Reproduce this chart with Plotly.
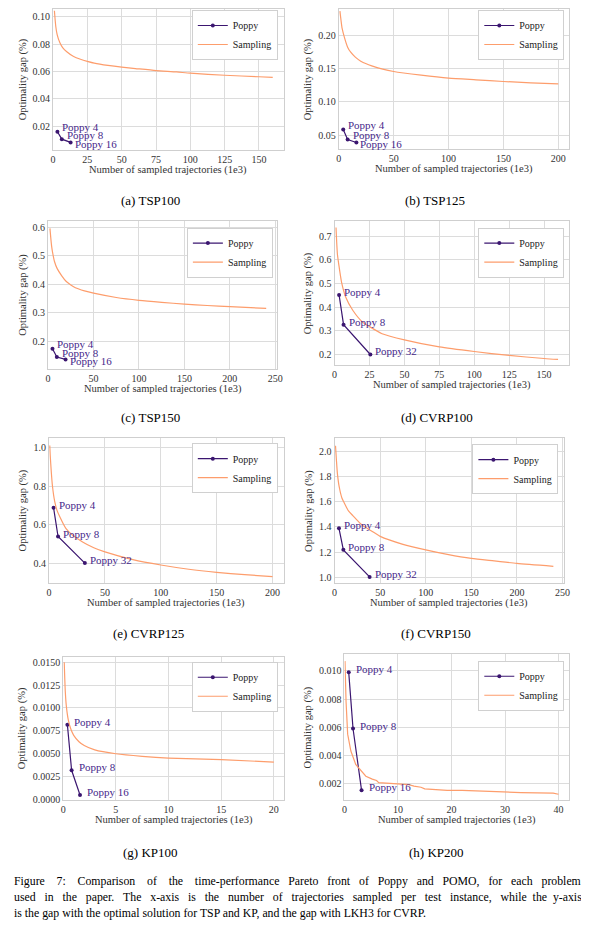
import plotly.graph_objects as go

# The page body has an 8px default margin; the figure is sized to fill the rest of the window.
PAGE_W, PAGE_H = 589, 934
OFF = 8
FW, FH = PAGE_W - OFF, PAGE_H - OFF

panel_titles = ["(a) TSP100", "(b) TSP125", "(c) TSP150", "(d) CVRP100",
                "(e) CVRP125", "(f) CVRP150", "(g) KP100", "(h) KP200"]

# ---------------- data ----------------
tsp100_samp_x = [1, 2, 3, 5, 7, 10, 15, 20, 25, 30, 40, 50, 60, 75, 90, 100, 125, 150, 160]
tsp100_samp_y = [0.1045, 0.093, 0.087, 0.081, 0.0775, 0.0745, 0.0710, 0.0690, 0.0675, 0.0662,
                 0.0645, 0.0632, 0.0622, 0.0607, 0.0597, 0.0588, 0.0573, 0.0562, 0.0558]
tsp100_poppy_x = [3.2, 6.4, 12.8]
tsp100_poppy_y = [0.0159, 0.0105, 0.0081]

tsp125_samp_x = [1, 2, 3, 5, 8, 11, 15, 20, 25, 30, 40, 50, 75, 100, 125, 150, 175, 200]
tsp125_samp_y = [0.236, 0.222, 0.21, 0.197, 0.182, 0.174, 0.167, 0.161, 0.157, 0.154, 0.149,
                 0.1455, 0.140, 0.1355, 0.133, 0.1305, 0.1285, 0.127]
tsp125_poppy_x = [4, 8, 16]
tsp125_poppy_y = [0.0584, 0.0435, 0.039]

tsp150_samp_x = [2, 3, 4, 5, 7, 10, 15, 20, 25, 30, 40, 50, 75, 100, 125, 150, 175, 200, 240]
tsp150_samp_y = [0.596, 0.56, 0.53, 0.51, 0.48, 0.455, 0.43, 0.41, 0.398, 0.388, 0.377, 0.369,
                 0.354, 0.344, 0.337, 0.331, 0.326, 0.322, 0.316]
tsp150_poppy_x = [4.8, 9.6, 19.2]
tsp150_poppy_y = [0.1745, 0.1455, 0.1374]

cvrp100_samp_x = [1, 2, 3, 5, 8, 13, 20, 25, 34, 50, 75, 100, 125, 150, 160]
cvrp100_samp_y = [0.737, 0.625, 0.58, 0.505, 0.442, 0.387, 0.337, 0.318, 0.288, 0.262, 0.232,
                  0.2126, 0.196, 0.183, 0.179]
cvrp100_poppy_x = [3.2, 6.4, 25.6]
cvrp100_poppy_y = [0.452, 0.326, 0.200]

cvrp125_samp_x = [0.6, 1, 2, 3, 5, 7, 10, 15, 20, 30, 40, 50, 75, 100, 125, 150, 175, 200]
cvrp125_samp_y = [1.01, 0.96, 0.87, 0.80, 0.72, 0.675, 0.635, 0.58, 0.55, 0.51, 0.48, 0.458,
                  0.418, 0.39, 0.368, 0.352, 0.34, 0.33]
cvrp125_poppy_x = [4, 8, 32]
cvrp125_poppy_y = [0.687, 0.538, 0.400]

cvrp150_samp_x = [1, 2, 3, 5, 8, 10, 15, 20, 30, 40, 50, 75, 100, 125, 150, 175, 200, 240]
cvrp150_samp_y = [2.045, 1.93, 1.83, 1.72, 1.63, 1.60, 1.53, 1.49, 1.415, 1.37, 1.325, 1.262,
                  1.218, 1.18, 1.15, 1.13, 1.11, 1.087]
cvrp150_poppy_x = [4.8, 9.6, 38.4]
cvrp150_poppy_y = [1.389, 1.218, 1.003]

kp100_samp_x = [0.1, 0.2, 0.3, 0.5, 0.75, 1, 1.5, 2, 3, 5, 7.5, 10, 15, 20]
kp100_samp_y = [0.0150, 0.0118, 0.0102, 0.0086, 0.0076, 0.0070, 0.0063, 0.00588, 0.0054,
                0.00498, 0.0047, 0.00451, 0.00433, 0.00407]
kp100_poppy_x = [0.4, 0.8, 1.6]
kp100_poppy_y = [0.00815, 0.00317, 0.00047]

kp200_samp_x = [0.1, 0.3, 0.6, 1.2, 2.1, 3.35, 4, 5.2, 6, 6.4, 8, 9.5, 11, 12, 13, 14.3, 15,
                17, 19.2, 22, 25, 28, 30, 33, 36, 39, 40]
kp200_samp_y = [0.0107, 0.0078, 0.0055, 0.0043, 0.00335, 0.00275, 0.0025, 0.0023, 0.0022,
                0.00205, 0.0020, 0.00195, 0.00195, 0.0019, 0.0018, 0.00172, 0.0016, 0.00155,
                0.0015, 0.0015, 0.00146, 0.00142, 0.00134, 0.00134, 0.00132, 0.0013, 0.00122]
kp200_poppy_x = [0.8, 1.6, 3.2]
kp200_poppy_y = [0.0099, 0.0059, 0.0015]

labels_tsp_kp = ["Poppy 4", "Poppy 8", "Poppy 16"]
labels_cvrp = ["Poppy 4", "Poppy 8", "Poppy 32"]

x_ticks = [[0, 25, 50, 75, 100, 125, 150], [0, 50, 100, 150, 200], [0, 50, 100, 150, 200, 250],
           [0, 25, 50, 75, 100, 125, 150], [0, 50, 100, 150, 200], [0, 50, 100, 150, 200, 250],
           [0, 5, 10, 15, 20], [0, 10, 20, 30, 40]]
y_ticks = [[0.02, 0.04, 0.06, 0.08, 0.10], [0.05, 0.10, 0.15, 0.20], [0.2, 0.3, 0.4, 0.5, 0.6],
           [0.2, 0.3, 0.4, 0.5, 0.6, 0.7], [0.4, 0.6, 0.8, 1.0], [1.0, 1.2, 1.4, 1.6, 1.8, 2.0],
           [0.0, 0.0025, 0.0050, 0.0075, 0.0100, 0.0125, 0.0150],
           [0.002, 0.004, 0.006, 0.008, 0.010]]
y_formats = [".2f", ".2f", ".1f", ".1f", ".1f", ".1f", ".4f", ".3f"]

caption_lines = [
    "Figure 7: Comparison of the time-performance Pareto front of Poppy and POMO, for each problem",
    "used in the paper. The x-axis is the number of trajectories sampled per test instance, while the y-axis",
    "is the gap with the optimal solution for TSP and KP, and the gap with LKH3 for CVRP.",
]

# ---------------- layout (page pixel geometry) ----------------
frames = [  # left, right, top, bottom in page px
    (50.7, 285, 8, 150), (341, 575, 8, 149),
    (45.7, 278.3, 221, 370.7), (336.7, 575, 221, 366.7),
    (46.7, 285, 440, 585.7), (336.7, 570, 440, 585.7),
    (61, 285.7, 660, 804.3), (346.7, 575, 657.3, 804.3)]
x_ranges = [[0, 168], [0, 210], [0, 252], [0, 168], [0, 210], [0, 252], [0, 21], [0, 42]]
y_ranges = [[0.0025, 0.1058], [0.0291, 0.2392], [0.1026, 0.623], [0.154, 0.766],
            [0.297, 1.048], [0.955, 2.105], [-0.0001, 0.0156], [0.0008, 0.0112]]
legend_pos = [(279, 9), (570, 9), (274, 228), (570, 228), (279, 445), (564, 446), (279, 665), (570, 664)]
ytitle_x = [20, 310, 20, 310, 20, 310, 20, 310]
caption_pos = [(150, 201), (439, 201), (150, 419), (441, 419), (148, 637), (440, 637), (150, 857), (440, 857)]
tsp_offsets = [(3, 5), (3, 4.5), (2, -1.5)]
cvrp_offsets = [(3, 3), (3, 3), (3, 3)]
kp_offsets = [(5, 3), (5, 3), (5, 3)]
label_offsets = [tsp_offsets, tsp_offsets, tsp_offsets, cvrp_offsets, cvrp_offsets, cvrp_offsets,
                 kp_offsets, kp_offsets]
line_shapes = ["spline"] * 7 + ["linear"]

samp = [(tsp100_samp_x, tsp100_samp_y), (tsp125_samp_x, tsp125_samp_y), (tsp150_samp_x, tsp150_samp_y),
        (cvrp100_samp_x, cvrp100_samp_y), (cvrp125_samp_x, cvrp125_samp_y), (cvrp150_samp_x, cvrp150_samp_y),
        (kp100_samp_x, kp100_samp_y), (kp200_samp_x, kp200_samp_y)]
poppy = [(tsp100_poppy_x, tsp100_poppy_y, labels_tsp_kp), (tsp125_poppy_x, tsp125_poppy_y, labels_tsp_kp),
         (tsp150_poppy_x, tsp150_poppy_y, labels_tsp_kp), (cvrp100_poppy_x, cvrp100_poppy_y, labels_cvrp),
         (cvrp125_poppy_x, cvrp125_poppy_y, labels_cvrp), (cvrp150_poppy_x, cvrp150_poppy_y, labels_cvrp),
         (kp100_poppy_x, kp100_poppy_y, labels_tsp_kp), (kp200_poppy_x, kp200_poppy_y, labels_tsp_kp)]

PURPLE = "#3b1670"
TEXTPURPLE = "#46288a"
ORANGE = "#fd9d6c"
FONT = "Liberation Serif"
TICKC = "#333333"
GRID = "#dcdcdc"

TIMES_W = {" ": .25, "a": .444, "b": .5, "c": .444, "d": .5, "e": .444, "f": .333, "g": .5, "h": .5,
           "i": .278, "j": .278, "k": .5, "l": .278, "m": .778, "n": .5, "o": .5, "p": .5, "q": .5,
           "r": .333, "s": .389, "t": .278, "u": .5, "v": .5, "w": .722, "x": .5, "y": .5, "z": .444,
           ".": .25, ",": .25, ":": .278, "-": .333, "F": .556, "C": .667, "P": .556, "O": .722,
           "M": .889, "T": .611, "S": .556, "K": .722, "L": .611, "H": .722, "V": .722, "R": .667,
           "A": .722, "3": .5, "7": .5}
CAP_FS = 11.8
CAP_X0, CAP_X1 = 9, 578


def fx(px):
    return min(1.0, max(0.0, (px - OFF) / FW))


def fy(py):
    return min(1.0, max(0.0, 1 - (py - OFF) / FH))


def justify(line, fs, target):
    natural = sum(TIMES_W.get(ch, .5) for ch in line) * fs
    sp = .25 * fs
    extra = max(0, int((target - natural) / sp))
    words = line.split(" ")
    gaps = len(words) - 1
    base, rem = divmod(extra, gaps)
    out = words[0]
    for k, w in enumerate(words[1:]):
        out += " " + "\u00a0" * (base + (1 if k < rem else 0)) + w
    return out


fig = go.Figure()
layout = dict(width=FW, height=FH, margin=dict(l=0, r=0, t=0, b=0), paper_bgcolor="white",
              plot_bgcolor="white", font=dict(family=FONT, size=10, color=TICKC))
annotations = []

for i in range(8):
    n = "" if i == 0 else str(i + 1)
    xa, ya = "x" + n, "y" + n
    lg = "legend" + n
    l, r, t, b = frames[i]
    sx, sy = samp[i]
    px_, py_, labs = poppy[i]
    fig.add_trace(go.Scatter(x=px_, y=py_, mode="lines+markers", name="Poppy",
                             line=dict(color=PURPLE, width=1.2), marker=dict(color=PURPLE, size=4),
                             xaxis=xa, yaxis=ya, legend=lg, cliponaxis=False))
    fig.add_trace(go.Scatter(x=sx, y=sy, mode="lines", name="Sampling",
                             line=dict(color=ORANGE, width=1.2, shape=line_shapes[i], smoothing=0.6),
                             xaxis=xa, yaxis=ya, legend=lg))
    axcommon = dict(showgrid=True, gridcolor=GRID, gridwidth=1, showline=True, linecolor="#cfcfcf",
                    linewidth=1, mirror=True, zeroline=False, ticks="",
                    tickfont=dict(family=FONT, size=10, color=TICKC))
    layout["xaxis" + n] = dict(axcommon, domain=[fx(l), fx(r)], range=x_ranges[i],
                               tickvals=x_ticks[i], anchor=ya)
    layout["yaxis" + n] = dict(axcommon, domain=[fy(b), fy(t)], range=y_ranges[i],
                               tickvals=y_ticks[i], tickformat=y_formats[i], anchor=xa)
    lx, ly = legend_pos[i]
    layout[lg] = dict(x=fx(lx), y=fy(ly), xanchor="right", yanchor="top", bgcolor="white",
                      bordercolor="#d0d0d0", borderwidth=1, font=dict(family=FONT, size=10, color="#222"),
                      itemwidth=30, tracegroupgap=0)
    for (xv, yv, tx, (dx, dy)) in zip(px_, py_, labs, label_offsets[i]):
        annotations.append(dict(x=xv, y=yv, xref=xa, yref=ya, text=tx, showarrow=False,
                                xanchor="left", yanchor="middle", xshift=dx, yshift=dy,
                                font=dict(family=FONT, size=11, color=TEXTPURPLE)))
    annotations.append(dict(x=fx((l + r) / 2), y=fy(b + 20), xref="paper", yref="paper",
                            text="Number of sampled trajectories (1e3)", showarrow=False,
                            xanchor="center", yanchor="middle", font=dict(family=FONT, size=10.5, color=TICKC)))
    annotations.append(dict(x=fx(ytitle_x[i]), y=fy((t + b) / 2), xref="paper", yref="paper",
                            text="Optimality gap (%)", showarrow=False, textangle=-90,
                            xanchor="center", yanchor="middle", font=dict(family=FONT, size=10.5, color=TICKC)))
    cx, cy = caption_pos[i]
    annotations.append(dict(x=fx(cx), y=fy(cy), xref="paper", yref="paper", text=panel_titles[i],
                            showarrow=False, xanchor="center", yanchor="middle",
                            font=dict(family=FONT, size=13, color="black")))

for k, line in enumerate(caption_lines):
    txt = justify(line, CAP_FS, CAP_X1 - CAP_X0) if k < len(caption_lines) - 1 else line
    annotations.append(dict(x=fx(CAP_X0), y=fy(886 + 16 * k), xref="paper", yref="paper", text=txt,
                            showarrow=False, xanchor="left", yanchor="middle",
                            font=dict(family=FONT, size=CAP_FS, color="black")))

layout["annotations"] = annotations
fig.update_layout(**layout)
fig.write_html("out.html")
